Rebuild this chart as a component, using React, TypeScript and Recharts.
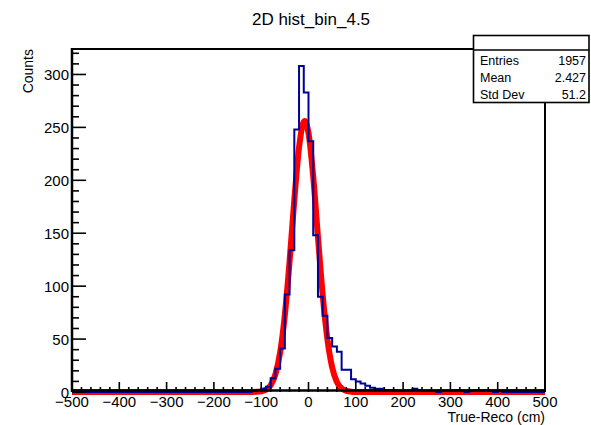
import { ComposedChart, Line, XAxis, YAxis } from 'recharts';

// histogram: 100 bins of width 10 from -500 to 500
const binStart = -500;
const binWidth = 10;
const histCounts = [
  0, 0, 0, 0, 0, 0, 0, 0, 0, 0,
  0, 0, 0, 0, 0, 0, 0, 0, 0, 0,
  0, 0, 0, 0, 0, 0, 0, 0, 0, 0,
  0, 0, 0, 0, 0, 0, 0, 0, 1, 2,
  3, 5, 13, 22, 41, 92, 134, 248, 308, 283,
  237, 148, 90, 72, 51, 43, 38, 21, 21, 12,
  10, 8, 6, 4, 3, 3, 2, 2, 1, 1,
  1, 2, 3, 2, 1, 1, 1, 0, 1, 1,
  1, 2, 1, 0, 1, 2, 1, 2, 1, 0,
  1, 0, 0, 0, 0, 0, 0, 0, 0, 0,
];

// gaussian fit
const fitX = [-500, -130, -120, -110, -100, -90, -80, -70, -60, -50, -40, -30, -20, -10, -8, 0, 10, 20, 30, 40, 50, 60, 70, 80, 90, 100, 110, 500];
const fitY = [0, 0, 0.03, 0.15, 0.6, 2.1, 6.4, 16.6, 37.3, 72.9, 123.5, 181.4, 231, 255.3, 256, 244.6, 203.3, 146.5, 91.6, 49.7, 23.3, 9.5, 3.4, 1.0, 0.3, 0.06, 0, 0];

const xTicks = [-500, -480, -460, -440, -420, -400, -380, -360, -340, -320, -300, -280, -260, -240, -220, -200, -180, -160, -140, -120, -100, -80, -60, -40, -20, 0, 20, 40, 60, 80, 100, 120, 140, 160, 180, 200, 220, 240, 260, 280, 300, 320, 340, 360, 380, 400, 420, 440, 460, 480, 500];
const yTicks = [0, 10, 20, 30, 40, 50, 60, 70, 80, 90, 100, 110, 120, 130, 140, 150, 160, 170, 180, 190, 200, 210, 220, 230, 240, 250, 260, 270, 280, 290, 300, 310, 320];

const stats = [
  { name: 'Entries', value: '1957' },
  { name: 'Mean', value: '2.427' },
  { name: 'Std Dev', value: '51.2' },
];

const histData = [
  ...histCounts.map((c, i) => ({ x: binStart + i * binWidth, count: c })),
  { x: binStart + histCounts.length * binWidth, count: histCounts[histCounts.length - 1] },
];
const fitData = fitX.map((x, i) => ({ x, fit: fitY[i] }));

const FONT = '"Liberation Sans", Arial, Helvetica, sans-serif';

const fmt = (v: number) => (v < 0 ? '\u2212' + Math.abs(v) : String(v));

const XTick = (props: any) => {
  const { x, y, payload } = props;
  const v = payload.value;
  const major = v % 100 === 0;
  return (
    <g>
      <line x1={x} y1={y} x2={x} y2={y - (major ? 10 : 5)} stroke="#000" strokeWidth={1.6} />
      {major && (
        <text x={x} y={y + 15} textAnchor="middle" fontSize={15} fontFamily={FONT} fill="#000">
          {fmt(v)}
        </text>
      )}
    </g>
  );
};

const YTick = (props: any) => {
  const { x, y, payload } = props;
  const v = payload.value;
  const major = v % 50 === 0;
  return (
    <g>
      <line x1={x} y1={y} x2={x + (major ? 14 : 7)} y2={y} stroke="#000" strokeWidth={1.6} />
      {major && (
        <text x={x - 3} y={y + 5.5} textAnchor="end" fontSize={15} fontFamily={FONT} fill="#000">
          {v}
        </text>
      )}
    </g>
  );
};

export default function App() {
  return (
    <div style={{ position: 'absolute', left: 0, top: 0, width: 591, height: 425, background: '#fff' }}>
      <ComposedChart
        width={591}
        height={425}
        margin={{ top: 48, right: 46, bottom: 0, left: 0 }}
      >
        <XAxis
          type="number"
          dataKey="x"
          domain={[-500, 500]}
          ticks={xTicks}
          interval={0}
          height={33}
          tickSize={0}
          tickMargin={0}
          tickLine={false}
          axisLine={false}
          tick={<XTick />}
        />
        <YAxis
          type="number"
          domain={[0, 325]}
          ticks={yTicks}
          interval={0}
          width={72}
          tickSize={0}
          tickMargin={0}
          tickLine={false}
          axisLine={false}
          tick={<YTick />}
        />
        <Line
          data={fitData}
          dataKey="fit"
          type="monotone"
          stroke="#ff0000"
          strokeWidth={6}
          dot={false}
          isAnimationActive={false}
        />
        <Line
          data={histData}
          dataKey="count"
          type="stepAfter"
          stroke="#000099"
          strokeWidth={2}
          dot={false}
          isAnimationActive={false}
        />
      </ComposedChart>

      {/* frame, titles and stats box on top */}
      <svg
        width={591}
        height={425}
        style={{ position: 'absolute', left: 0, top: 0, pointerEvents: 'none' }}
        fontFamily={FONT}
      >
        <line x1={72} y1={49} x2={545} y2={49} stroke="#000" strokeWidth={2} />
        <line x1={545} y1={48} x2={545} y2={392} stroke="#000" strokeWidth={2} />
        <line x1={72} y1={48} x2={72} y2={392} stroke="#000" strokeWidth={2.5} />
        <line x1={71} y1={390.5} x2={546} y2={390.5} stroke="#000" strokeWidth={2.5} />

        <text x={311} y={25} textAnchor="middle" fontSize={17} fill="#000">
          2D hist_bin_4.5
        </text>
        <text
          x={0}
          y={0}
          transform="translate(33,49) rotate(-90)"
          textAnchor="end"
          fontSize={14}
          fill="#000"
        >
          Counts
        </text>
        <text x={545} y={422} textAnchor="end" fontSize={14} fill="#000">
          True-Reco (cm)
        </text>

        <rect x={473.5} y={35.5} width={115.5} height={67} fill="#fff" stroke="#000" strokeWidth={1.6} />
        <line x1={473.5} y1={50} x2={589} y2={50} stroke="#000" strokeWidth={1.4} />
        {stats.map((s, i) => (
          <g key={s.name}>
            <text x={480} y={65 + i * 17} fontSize={12.5} fill="#000">
              {s.name}
            </text>
            <text x={586} y={65 + i * 17} textAnchor="end" fontSize={12.5} fill="#000">
              {s.value}
            </text>
          </g>
        ))}
      </svg>
    </div>
  );
}
